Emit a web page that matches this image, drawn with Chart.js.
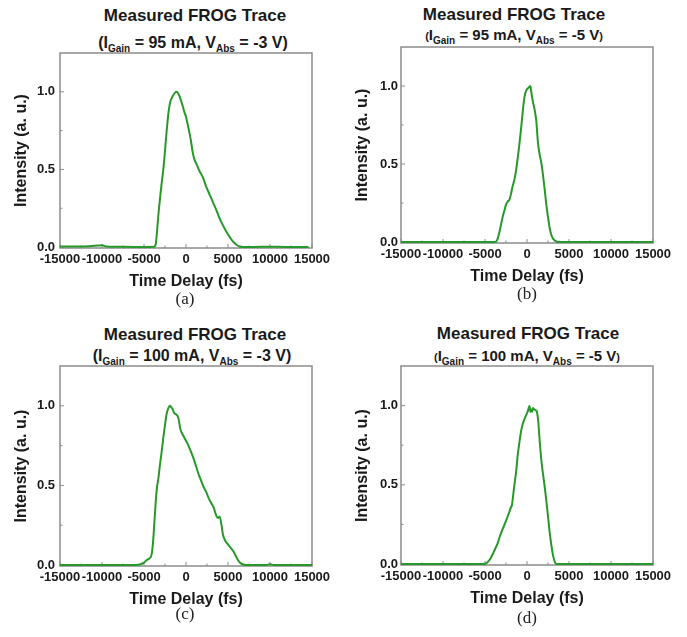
<!DOCTYPE html>
<html>
<head>
<meta charset="utf-8">
<script src="https://cdn.jsdelivr.net/npm/chart.js@4.4.1/dist/chart.umd.min.js"></script>
<style>
  html, body { margin:0; padding:0; background:#fff; }
  body { width:687px; height:637px; position:relative; overflow:hidden; font-family:"Liberation Sans", Arial, sans-serif; }
  canvas { position:absolute; }
  .t { position:absolute; white-space:nowrap; transform:translateX(-50%); font-weight:bold; color:#1a1a1a; line-height:1; }
  .sub { font-size:10px; position:relative; top:4px; }
  .sp { font-size:11px; }
  .lab { position:absolute; transform:translateX(-50%); font-family:"Liberation Serif", "Times New Roman", serif; font-size:17px; color:#222; line-height:1; }
</style>
</head>
<body>
<div class="t" style="left:195px; top:7px; font-size:17px;">Measured FROG Trace</div>
<div class="t" style="left:193px; top:35px; font-size:16px;">(I<span class="sub">Gain</span> = 95 mA, V<span class="sub">Abs</span> = -3 V)</div>
<div class="t" style="left:514px; top:6px; font-size:17px;">Measured FROG Trace</div>
<div class="t" style="left:514px; top:27px; font-size:15px;"><span class="sp">(</span>I<span class="sub">Gain</span> = 95 mA, V<span class="sub">Abs</span> = -5 V<span class="sp">)</span></div>
<div class="t" style="left:195px; top:326px; font-size:17px;">Measured FROG Trace</div>
<div class="t" style="left:192px; top:348px; font-size:16px;">(I<span class="sub">Gain</span> = 100 mA, V<span class="sub">Abs</span> = -3 V)</div>
<div class="t" style="left:528px; top:325px; font-size:17px;">Measured FROG Trace</div>
<div class="t" style="left:527px; top:348px; font-size:15px;"><span class="sp">(</span>I<span class="sub">Gain</span> = 100 mA, V<span class="sub">Abs</span> = -5 V<span class="sp">)</span></div>

<canvas id="ca" width="336" height="249" style="left:0px; top:47px;"></canvas>
<canvas id="cb" width="336" height="250" style="left:341px; top:41px;"></canvas>
<canvas id="cc" width="336" height="254" style="left:0px; top:360px;"></canvas>
<canvas id="cd" width="336" height="253" style="left:341px; top:360px;"></canvas>

<div class="lab" style="left:185px; top:290px;">(a)</div>
<div class="lab" style="left:527px; top:285px;">(b)</div>
<div class="lab" style="left:185px; top:605px;">(c)</div>
<div class="lab" style="left:527px; top:609px;">(d)</div>

<script>
// ---- data ----
const xTicks = [-15000, -10000, -5000, 0, 5000, 10000, 15000];
const xMinorTicks = [-12500, -7500, -2500, 2500, 7500, 12500];
const yTicks = [0, 0.5, 1.0];
const yMinorTicks = [0.25, 0.75];

const timeA = [-15000,-13000,-11500,-10500,-10000,-9500,-8000,-6000,-4500,-3800,-3600,-3450,-3300,-3100,-2900,-2700,-2500,-2300,-2100,-1900,-1700,-1500,-1300,-1150,-1000,-800,-600,-400,-200,0,200,400,600,800,1000,1300,1600,2000,2400,2800,3200,3600,4000,4400,4800,5200,5600,6000,6400,6800,8000,10000,12000,14600];
const intensityA = [0.004,0.004,0.006,0.01,0.012,0.004,0.002,0.001,0.001,0.002,0.02,0.1,0.2,0.31,0.41,0.5,0.62,0.75,0.86,0.93,0.96,0.98,0.995,1.0,0.995,0.975,0.945,0.91,0.87,0.84,0.79,0.74,0.68,0.61,0.565,0.53,0.49,0.45,0.39,0.34,0.29,0.24,0.185,0.14,0.1,0.065,0.035,0.015,0.004,0.001,0.001,0.002,0.001,0.001];

const timeB = [-15000,-10000,-5000,-3700,-3500,-3300,-3100,-2900,-2700,-2500,-2300,-2100,-1900,-1700,-1500,-1300,-1100,-900,-700,-500,-300,-100,100,300,400,500,700,900,1100,1300,1500,1700,1900,2100,2300,2500,2700,2900,3100,3400,3800,5000,10000,15000];
const intensityB = [0,0,0,0.002,0.02,0.06,0.11,0.16,0.2,0.24,0.26,0.27,0.31,0.36,0.4,0.46,0.54,0.63,0.73,0.84,0.93,0.97,0.985,0.995,1.0,0.965,0.9,0.85,0.78,0.64,0.56,0.51,0.43,0.34,0.24,0.16,0.09,0.045,0.022,0.006,0,0,0,0];

const timeC = [-15000,-10000,-6000,-5400,-5000,-4700,-4400,-4200,-4050,-3900,-3750,-3600,-3450,-3300,-3100,-2900,-2700,-2500,-2300,-2100,-1900,-1750,-1600,-1450,-1300,-1150,-1000,-850,-700,-500,-300,0,300,600,900,1200,1500,1800,2100,2400,2700,3000,3300,3600,3800,4000,4200,4400,4700,5000,5300,5600,5900,6200,6500,6800,7200,8000,9500,10000,10500,12000,15000];
const intensityC = [0.001,0.001,0.001,0.005,0.015,0.03,0.04,0.05,0.08,0.16,0.28,0.4,0.49,0.54,0.63,0.71,0.8,0.88,0.95,0.985,1.0,0.99,0.98,0.96,0.95,0.945,0.935,0.91,0.86,0.83,0.81,0.78,0.75,0.71,0.67,0.62,0.57,0.53,0.49,0.46,0.42,0.39,0.36,0.31,0.295,0.305,0.26,0.19,0.15,0.13,0.11,0.09,0.06,0.03,0.012,0.003,0,0,0,0.005,0,0,0];

const timeD = [-15000,-10000,-5500,-5000,-4700,-4400,-4100,-3800,-3500,-3200,-2900,-2600,-2300,-2100,-1900,-1800,-1700,-1500,-1300,-1100,-900,-700,-500,-300,-100,100,200,300,400,500,600,700,800,1000,1150,1250,1350,1450,1550,1700,1900,2100,2300,2500,2700,2900,3100,3300,3500,4000,10000,15000];
const intensityD = [0,0,0,0.002,0.012,0.03,0.06,0.095,0.13,0.18,0.22,0.26,0.3,0.33,0.36,0.37,0.41,0.5,0.58,0.69,0.77,0.84,0.885,0.915,0.94,0.965,0.985,0.997,0.96,0.975,0.962,0.985,0.978,0.972,0.965,0.94,0.895,0.82,0.75,0.66,0.57,0.49,0.4,0.3,0.2,0.12,0.055,0.015,0,0,0,0];

// ---- styling ----
const GREEN = '#27992a';
const AXIS = '#8c8c8c';
const TXT = '#1a1a1a';
const FAM = '"Liberation Sans", Arial, sans-serif';

const boxPlugin = {
  id: 'box',
  beforeDatasetsDraw(chart) {
    const {ctx, chartArea: a, scales} = chart;
    ctx.save();
    ctx.strokeStyle = AXIS;
    ctx.lineWidth = 1.5;
    ctx.strokeRect(a.left, a.top, a.right - a.left, a.bottom - a.top);
    ctx.lineWidth = 1;
    const tick = (x1, y1, x2, y2) => { ctx.beginPath(); ctx.moveTo(x1, y1); ctx.lineTo(x2, y2); ctx.stroke(); };
    xTicks.forEach(v => { const p = scales.x.getPixelForValue(v); tick(p, a.bottom, p, a.bottom - 4); });
    xMinorTicks.forEach(v => { const p = scales.x.getPixelForValue(v); tick(p, a.bottom, p, a.bottom - 2.5); });
    yTicks.forEach(v => { const p = scales.y.getPixelForValue(v); tick(a.left, p, a.left + 4, p); });
    yMinorTicks.forEach(v => { const p = scales.y.getPixelForValue(v); tick(a.left, p, a.left + 2.5, p); });
    ctx.restore();
  }
};

function makeChart(id, times, values, yPad) {
  const data = times.map((t, i) => ({x: t, y: values[i]}));
  new Chart(document.getElementById(id), {
    type: 'line',
    data: { datasets: [{ data, borderColor: GREEN, borderWidth: 2, pointRadius: 0, fill: false, cubicInterpolationMode: 'monotone' }] },
    options: {
      responsive: false,
      animation: false,
      layout: { padding: { left: 0, top: 6, right: 24, bottom: 0 } },
      plugins: { legend: { display: false }, tooltip: { enabled: false } },
      scales: {
        x: {
          type: 'linear', min: -15000, max: 15000,
          afterBuildTicks: s => { s.ticks = xTicks.map(v => ({value: v})); },
          afterFit: s => { s.height = 48; s.paddingLeft = 0; s.paddingRight = 0; },
          grid: { display: false, drawTicks: false },
          border: { display: false },
          ticks: { autoSkip: false, maxRotation: 0, padding: 4, color: TXT, font: { family: FAM, size: 13, weight: 'bold' }, callback: v => String(v) },
          title: { display: true, text: 'Time Delay (fs)', color: TXT, font: { family: FAM, size: 16, weight: 'bold' }, padding: { top: 0, bottom: 5 } }
        },
        y: {
          type: 'linear', min: -0.006, max: 1.25,
          afterBuildTicks: s => { s.ticks = yTicks.map(v => ({value: v})); },
          afterFit: s => { s.width = 60; s.paddingTop = 0; s.paddingBottom = 0; },
          grid: { display: false, drawTicks: false },
          border: { display: false },
          ticks: { padding: yPad, color: TXT, font: { family: FAM, size: 13, weight: 'bold' }, callback: v => Number(v).toFixed(1) },
          title: { display: true, text: 'Intensity (a. u.)', color: TXT, font: { family: FAM, size: 16, weight: 'bold' }, padding: { top: 12, bottom: 0 } }
        }
      }
    },
    plugins: [boxPlugin]
  });
}

makeChart('ca', timeA, intensityA, 5);
makeChart('cb', timeB, intensityB, 3);
makeChart('cc', timeC, intensityC, 5);
makeChart('cd', timeD, intensityD, 3);
</script>
</body>
</html>
